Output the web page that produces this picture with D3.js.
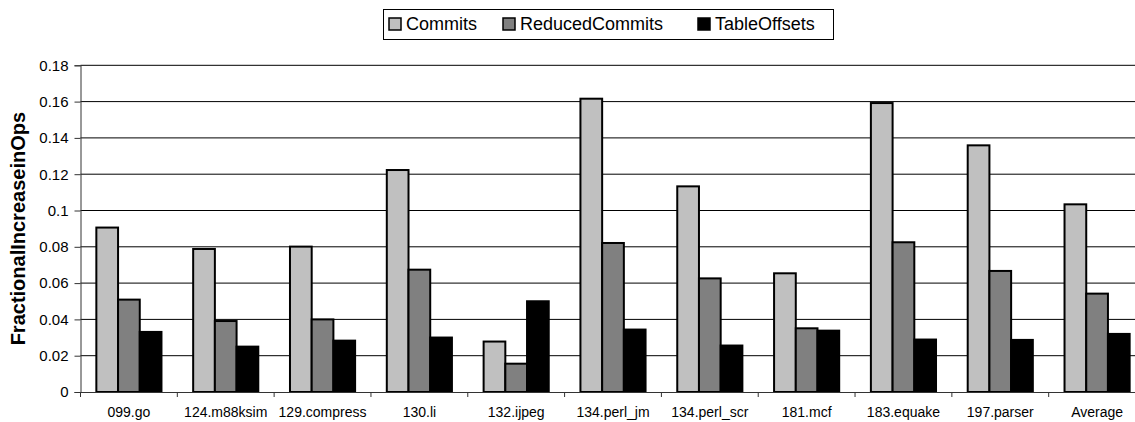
<!DOCTYPE html>
<html lang="en">
<head>
    <meta charset="UTF-8">
    <title>Fractional Increase in Ops</title>
    <script src="https://d3js.org/d3.v7.min.js"></script>
    <style>
        body { margin: 0; background: #fff; }
        svg { display: block; font-family: "Liberation Sans", Arial, sans-serif; }
    </style>
</head>
<body>
    <div id="chart"></div>

    <script>
        const width = 1135;
        const height = 422;

        // data
        const categories = ["099.go", "124.m88ksim", "129.compress", "130.li", "132.ijpeg",
            "134.perl_jm", "134.perl_scr", "181.mcf", "183.equake", "197.parser", "Average"];
        const seriesNames = ["Commits", "ReducedCommits", "TableOffsets"];
        const commits = [0.0906, 0.0788, 0.0801, 0.1223, 0.0278, 0.1616, 0.1133, 0.0654, 0.1592, 0.1359, 0.1034];
        const reducedCommits = [0.0509, 0.0391, 0.0400, 0.0674, 0.0156, 0.0821, 0.0626, 0.0351, 0.0825, 0.0667, 0.0542];
        const tableOffsets = [0.0331, 0.0250, 0.0283, 0.0300, 0.0500, 0.0344, 0.0256, 0.0338, 0.0289, 0.0287, 0.0320];
        const yTicks = [0, 0.02, 0.04, 0.06, 0.08, 0.1, 0.12, 0.14, 0.16, 0.18];
        const yTickLabels = ["0", "0.02", "0.04", "0.06", "0.08", "0.1", "0.12", "0.14", "0.16", "0.18"];
        const colors = ["#c0c0c0", "#808080", "#000000"];

        const seriesValues = [commits, reducedCommits, tableOffsets];

        // plot area (right edge runs past the picture, as in the original)
        const plotLeft = 80.5, plotRight = 1145.5, plotTop = 65.3, plotBottom = 392;

        const x0 = d3.scaleBand()
            .domain(categories)
            .range([plotLeft, plotRight])
            .padding(0);

        const x1 = d3.scaleBand()
            .domain(seriesNames)
            .range([0, x0.bandwidth()])
            .paddingInner(0)
            .paddingOuter(0.73);

        const y = d3.scaleLinear()
            .domain([0, 0.18])
            .range([plotBottom, plotTop]);

        const color = d3.scaleOrdinal().domain(seriesNames).range(colors);

        const svg = d3.select("#chart")
            .append("svg")
            .attr("width", width)
            .attr("height", height);

        // gridlines
        svg.append("g")
            .selectAll("line")
            .data(yTicks.slice(1))
            .join("line")
            .attr("x1", plotLeft)
            .attr("x2", width)
            .attr("y1", d => y(d))
            .attr("y2", d => y(d))
            .attr("stroke", "#000")
            .attr("stroke-width", 1);

        // y axis
        const yAxis = svg.append("g")
            .attr("transform", `translate(${plotLeft},0)`)
            .call(d3.axisLeft(y)
                .tickValues(yTicks)
                .tickSize(6)
                .tickPadding(6)
                .tickFormat((d, i) => yTickLabels[i]));
        yAxis.select(".domain").attr("stroke", "#333");
        yAxis.selectAll(".tick line").attr("stroke", "#333");
        yAxis.selectAll("text")
            .attr("font-size", 15)
            .attr("font-family", "Liberation Sans, Arial, sans-serif")
            .attr("fill", "#000");

        // bars
        const rows = categories.map((c, i) => ({
            cat: c,
            vals: seriesNames.map((s, j) => ({ key: s, value: seriesValues[j][i] }))
        }));

        svg.append("g")
            .selectAll("g")
            .data(rows)
            .join("g")
            .attr("transform", d => `translate(${x0(d.cat)},0)`)
            .selectAll("rect")
            .data(d => d.vals)
            .join("rect")
            .attr("x", d => x1(d.key))
            .attr("y", d => y(d.value))
            .attr("width", x1.bandwidth())
            .attr("height", d => plotBottom - y(d.value))
            .attr("fill", d => color(d.key))
            .attr("stroke", "#000")
            .attr("stroke-width", 2);

        // x axis
        const xAxis = svg.append("g")
            .attr("transform", `translate(0,${plotBottom})`)
            .call(d3.axisBottom(x0).tickSize(0).tickPadding(15));
        xAxis.select(".domain").attr("stroke", "#333").attr("d", `M${plotLeft},0.5H${plotRight}`);
        xAxis.selectAll("text")
            .attr("font-size", 14)
            .attr("font-family", "Liberation Sans, Arial, sans-serif")
            .attr("fill", "#000");

        // category separators below the axis
        xAxis.append("g")
            .selectAll("line")
            .data(categories)
            .join("line")
            .attr("x1", d => x0(d))
            .attr("x2", d => x0(d))
            .attr("y1", 0)
            .attr("y2", 5)
            .attr("stroke", "#333");

        // y axis title
        svg.append("text")
            .attr("transform", `translate(25,${(plotTop + plotBottom) / 2}) rotate(-90)`)
            .attr("text-anchor", "middle")
            .attr("font-size", 20)
            .attr("font-weight", "bold")
            .text("FractionalIncreaseinOps");

        // legend
        const legendX = [389, 503, 698];
        const legend = svg.append("g");
        legend.append("rect")
            .attr("x", 383.5)
            .attr("y", 9.5)
            .attr("width", 450)
            .attr("height", 30)
            .attr("fill", "#fff")
            .attr("stroke", "#000");

        const items = legend.selectAll("g")
            .data(seriesNames)
            .join("g")
            .attr("transform", (d, i) => `translate(${legendX[i]},18)`);
        items.append("rect")
            .attr("width", 12)
            .attr("height", 12)
            .attr("fill", d => color(d))
            .attr("stroke", "#000")
            .attr("stroke-width", 1.5);
        items.append("text")
            .attr("x", 17)
            .attr("y", 12)
            .attr("font-size", 18)
            .text(d => d);
    </script>
</body>
</html>
